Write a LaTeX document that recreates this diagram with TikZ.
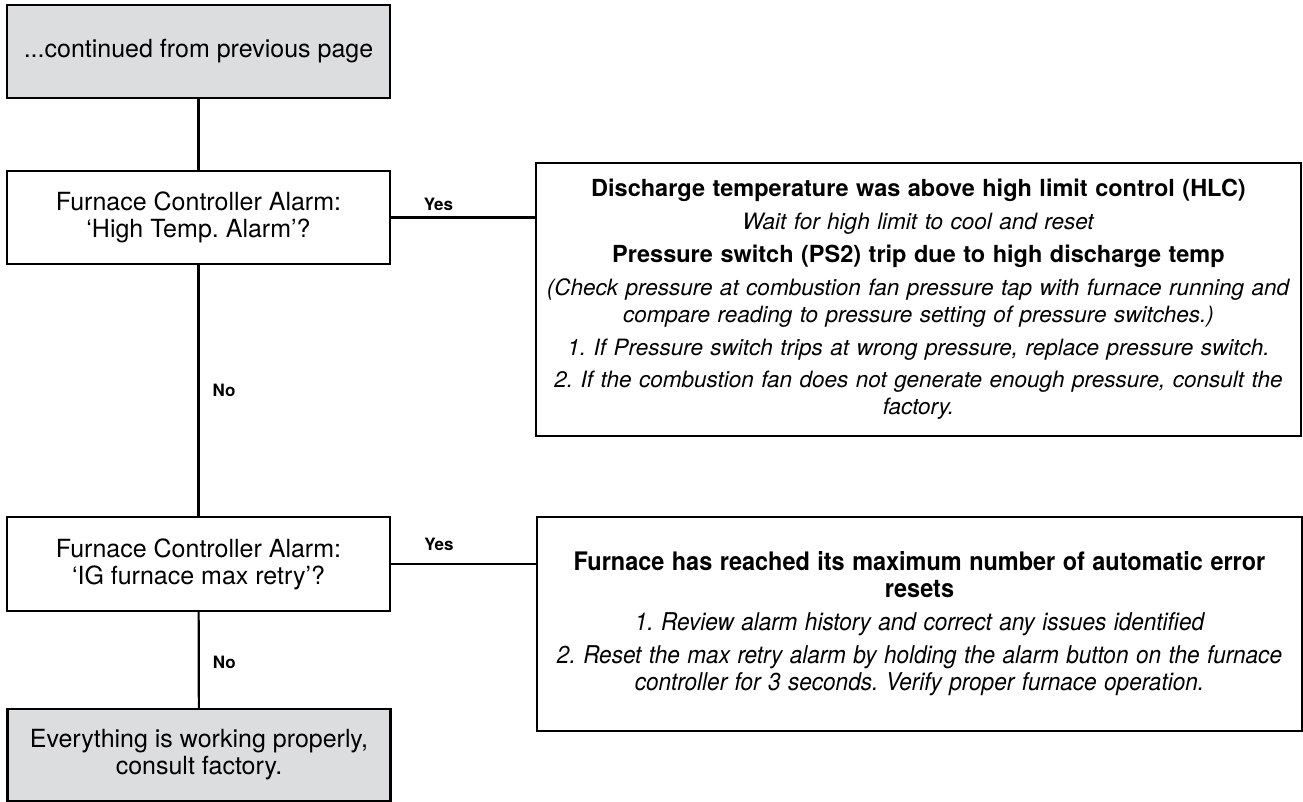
\documentclass[tikz,border=0pt]{standalone}
\usepackage{fontspec}
\setmainfont{TeX Gyre Heros}
\newfontfamily\narrowfont[FakeStretch=0.92]{TeX Gyre Heros}
\usepackage{tikz}
\frenchspacing
\definecolor{boxgray}{RGB}{220,221,223}
\tikzstyle{terminal} = [rectangle, minimum width=383pt, minimum height=93pt, align=center, draw=black, fill=boxgray, line width=2.2pt, font=\fontsize{25}{27}\selectfont]
\tikzstyle{decision} = [rectangle, minimum width=383pt, minimum height=93pt, align=center, draw=black, line width=2.2pt, font=\fontsize{25}{27}\selectfont]
\tikzstyle{action} = [rectangle, text width=745pt, inner xsep=10pt, minimum width=765pt, align=center, draw=black, line width=2.2pt, font=\fontsize{22.5}{27}\selectfont]
\tikzstyle{answer} = [inner sep=0pt, font=\bfseries\fontsize{17}{20}\selectfont]
\tikzstyle{line} = [line width=2.2pt]
\newcommand{\head}[1]{{\bfseries\fontsize{23.5}{27}\selectfont #1}}

\begin{document}
\begin{tikzpicture}[x=1pt, y=-1pt]
\useasboundingbox (0,0) rectangle (1303,802);

\node (prev) [terminal] at (198.5,51.5) {...continued from previous page};

\node (hightemp) [decision] at (198.5,217.5) {Furnace Controller Alarm:\\‘High Temp. Alarm’?};

\node (maxretry) [decision, minimum height=94pt] at (198.5,564) {Furnace Controller Alarm:\\‘IG furnace max retry’?};

\node (done) [terminal, minimum height=92pt] at (199,755) {Everything is working properly,\\consult factory.};

\node (hlc) [action, minimum height=273pt] at (918.5,299.5) {
	\head{Discharge temperature was above high limit control (HLC)}\\[6pt]
	\textit{Wait for high limit to cool and reset}\\[6pt]
	\head{Pressure switch (PS2) trip due to high discharge temp}\\[6pt]
	\textit{(Check pressure at combustion fan pressure tap with furnace running and}\\
	\textit{compare reading to pressure setting of pressure switches.)}\\[6pt]
	\textit{1. If Pressure switch trips at wrong pressure, replace pressure switch.}\\[5pt]
	\textit{2. If the combustion fan does not generate enough pressure, consult the}\\
	\textit{factory.}
};

\node (retry) [action, minimum height=214pt] at (919.5,624) {\narrowfont
	{\bfseries\fontsize{25.5}{27}\selectfont Furnace has reached its maximum number of automatic error}\\
	{\bfseries\fontsize{25.5}{27}\selectfont resets}\\[6pt]
	{\itshape\fontsize{24.5}{27}\selectfont 1. Review alarm history and correct any issues identified}\\[6pt]
	{\itshape\fontsize{24.5}{27}\selectfont 2. Reset the max retry alarm by holding the alarm button on the furnace}\\
	{\itshape\fontsize{24.5}{27}\selectfont controller for 3 seconds. Verify proper furnace operation.}
};

\draw [line] (prev) -- (hightemp);
\draw [line] (hightemp) -- (maxretry) node [answer, pos=0.5, right=13pt] {No};
\draw [line] (maxretry) -- (done) node [answer, pos=0.52, right=13pt] {No};
\draw [line] (hightemp.east) -- (hightemp.east -| hlc.west) node [answer, pos=0.33, above=6pt] {Yes};
\draw [line] (maxretry.east) -- (maxretry.east -| retry.west) node [answer, pos=0.33, above=12pt] {Yes};

\end{tikzpicture}
\end{document}
